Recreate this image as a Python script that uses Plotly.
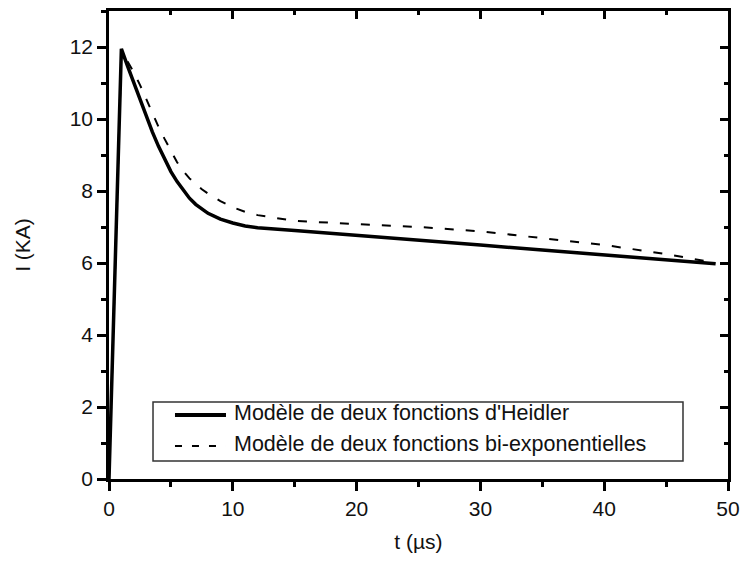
import plotly.graph_objects as go

# Time axis (µs) and current (kA) for both lightning-current models
t_heidler = [0, 1.0, 1.5, 2, 2.5, 3, 3.5, 4, 4.5, 5, 5.5, 6, 6.5, 7, 7.5, 8, 9, 10, 11,
             12, 15, 20, 25, 30, 35, 40, 45, 49]
i_heidler = [0, 11.95, 11.47, 11.0, 10.52, 10.07, 9.64, 9.24, 8.87, 8.54, 8.26, 8.01,
             7.80, 7.63, 7.49, 7.38, 7.22, 7.11, 7.03, 6.98, 6.90, 6.77, 6.65, 6.50, 6.36,
             6.23, 6.10, 5.98]

t_biexp = [0, 1.0, 1.5, 2, 2.5, 3, 3.5, 4, 4.5, 5, 5.5, 6, 6.5, 7, 7.5, 8, 9, 10, 11,
           12, 15, 20, 25, 30, 35, 40, 45, 49]
i_biexp = [0, 11.9, 11.6, 11.3, 10.95, 10.56, 10.15, 9.78, 9.44, 9.10, 8.80, 8.55,
           8.35, 8.20, 8.05, 7.93, 7.72, 7.55, 7.42, 7.33, 7.17, 7.08, 7.0, 6.88, 6.70,
           6.50, 6.25, 6.0]

legend_labels = ["Modèle de deux fonctions d'Heidler",
                 "Modèle de deux fonctions bi-exponentielles"]

FONT = "Liberation Sans, Arial, sans-serif"
INK = "#111111"

fig = go.Figure()
fig.add_trace(go.Scatter(x=t_heidler, y=i_heidler, mode="lines", name=legend_labels[0],
                         line=dict(color="black", width=3.5), showlegend=False))
fig.add_trace(go.Scatter(x=t_biexp, y=i_biexp, mode="lines", name=legend_labels[1],
                         line=dict(color="black", width=2, dash="9px,12px"), showlegend=False))
# carrier trace so the top/right frame axes get drawn
fig.add_trace(go.Scatter(x=[0], y=[0], xaxis="x2", yaxis="y2", mode="markers",
                         marker=dict(opacity=0), showlegend=False, hoverinfo="skip"))

axis_common = dict(showline=True, linewidth=2.5, linecolor="black", showgrid=False,
                   zeroline=False, tickcolor="black", tickwidth=2.5, automargin=False)

fig.update_layout(
    width=742, height=563,
    margin=dict(l=109, r=14, t=11, b=84),
    paper_bgcolor="white", plot_bgcolor="white",
    showlegend=False,
    font=dict(family=FONT, size=21, color=INK),
    xaxis=dict(range=[0, 50], dtick=10, ticks="outside", ticklen=9,
               minor=dict(dtick=5, ticks="outside", ticklen=5, tickwidth=2.5, tickcolor="black"),
               title=dict(text="t (µs)", standoff=16, font=dict(size=21)),
               **axis_common),
    yaxis=dict(range=[0, 13], dtick=2, ticks="outside", ticklen=9,
               minor=dict(dtick=1, ticks="outside", ticklen=5, tickwidth=2.5, tickcolor="black"),
               title=dict(text="I (KA)", standoff=34, font=dict(size=21)),
               **axis_common),
    xaxis2=dict(range=[0, 50], dtick=10, overlaying="x", side="top", ticks="inside",
                ticklen=8, showticklabels=False,
                minor=dict(dtick=5, ticks="inside", ticklen=4, tickwidth=2.5, tickcolor="black"),
                **axis_common),
    yaxis2=dict(range=[0, 13], dtick=2, overlaying="y", side="right", ticks="inside",
                ticklen=8, showticklabels=False,
                minor=dict(dtick=1, ticks="inside", ticklen=4, tickwidth=2.5, tickcolor="black"),
                **axis_common),
)

# Legend box with line samples
fig.add_shape(type="rect", xref="paper", yref="paper", x0=0.0711, x1=0.9273, y0=0.0385, y1=0.1645,
              line=dict(color="#333333", width=1.5), fillcolor="white")
fig.add_shape(type="line", xref="paper", yref="paper", x0=0.1066, x1=0.189, y0=0.1368, y1=0.1368,
              line=dict(color="black", width=4))
fig.add_shape(type="line", xref="paper", yref="paper", x0=0.1066, x1=0.189, y0=0.0705, y1=0.0705,
              line=dict(color="black", width=2, dash="7px,10px"))
for label, ypos in zip(legend_labels, [0.141, 0.075]):
    fig.add_annotation(xref="paper", yref="paper", x=0.1987, y=ypos, text=label,
                       showarrow=False, xanchor="left", yanchor="middle",
                       font=dict(family=FONT, size=21.5, color=INK))

fig.write_html("out.html")
